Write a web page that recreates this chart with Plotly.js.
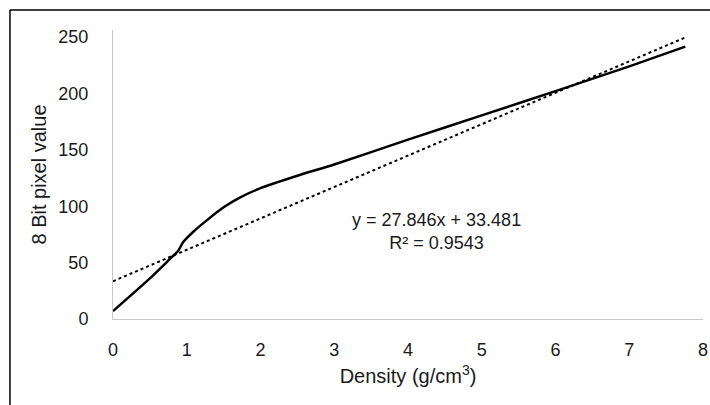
<!DOCTYPE html>
<html>
<head>
<meta charset="utf-8">
<script src="https://cdn.plot.ly/plotly-3.0.1.min.js"></script>
<style>html,body{margin:0;padding:0;background:#fff;}#chart{width:710px;height:405px;}</style>
</head>
<body>
<div id="chart"></div>
<script>
// Measured curve: density (g/cm3) vs 8-bit pixel value
var density = [0, 0.5, 0.8, 0.88, 0.95, 1.1, 1.3, 1.5, 1.7, 2.0, 2.5, 3.0, 4.0, 5.0, 6.0, 7.0, 7.76];
var pixelValue = [7, 36, 55, 60, 68, 78, 89, 99, 107, 116, 127, 137, 159, 180.5, 202, 224, 241.5];

// Linear trendline from the chart's equation
var trendSlope = 27.846;
var trendIntercept = 33.481;
var trendRange = [0, 7.76];
var equationText = 'y = 27.846x + 33.481';
var r2Text = 'R² = 0.9543';

var xTicks = [0, 1, 2, 3, 4, 5, 6, 7, 8];
var yTicks = [0, 50, 100, 150, 200, 250];

var trendY = trendRange.map(function (x) { return trendSlope * x + trendIntercept; });

var font = 'Liberation Sans, Arial, sans-serif';
var textColor = '#1a1a1a';

var data = [
  {
    x: density, y: pixelValue, type: 'scatter', mode: 'lines',
    line: {color: '#000', width: 2.5, shape: 'spline', smoothing: 0.6},
    hoverinfo: 'skip'
  },
  {
    x: trendRange, y: trendY, type: 'scatter', mode: 'lines',
    line: {color: '#000', width: 2, dash: 'dot'},
    hoverinfo: 'skip'
  }
];

var layout = {
  width: 710, height: 405,
  margin: {l: 113, r: 7, t: 30, b: 86},
  paper_bgcolor: '#fff', plot_bgcolor: '#fff',
  showlegend: false,
  font: {family: font, color: textColor, size: 18},
  xaxis: {
    range: [0, 8], tickvals: xTicks, ticktext: xTicks.map(String),
    showgrid: false, zeroline: false, showline: true, linecolor: '#c8c8c8', linewidth: 1,
    ticks: '', ticklabelstandoff: 14,
    tickfont: {size: 18, family: font, color: textColor},
    title: {text: 'Density (g/cm<sup>3</sup>)', font: {size: 20, family: font, color: textColor}, standoff: 10}
  },
  yaxis: {
    range: [0, 256.2], tickvals: yTicks, ticktext: yTicks.map(String),
    showgrid: false, zeroline: false, showline: true, linecolor: '#c8c8c8', linewidth: 1,
    ticks: '', ticklabelstandoff: 20,
    tickfont: {size: 18, family: font, color: textColor},
    title: {text: '8 Bit pixel value', font: {size: 20, family: font, color: textColor}, standoff: 6}
  },
  annotations: [
    {
      x: 4.39, y: 77.6, xref: 'x', yref: 'y',
      text: equationText + '<br>' + r2Text,
      showarrow: false, align: 'center',
      font: {size: 18, family: font, color: textColor}
    }
  ],
  shapes: [
    {type: 'line', xref: 'paper', yref: 'paper', x0: -0.1746, x1: 1.02, y0: 1.069, y1: 1.069,
     line: {color: '#000', width: 1.5}},
    {type: 'line', xref: 'paper', yref: 'paper', x0: -0.1746, x1: -0.1746, y0: 1.069, y1: -0.32,
     line: {color: '#000', width: 1.5}}
  ]
};

Plotly.newPlot('chart', data, layout, {displayModeBar: false, staticPlot: true});
</script>
</body>
</html>
